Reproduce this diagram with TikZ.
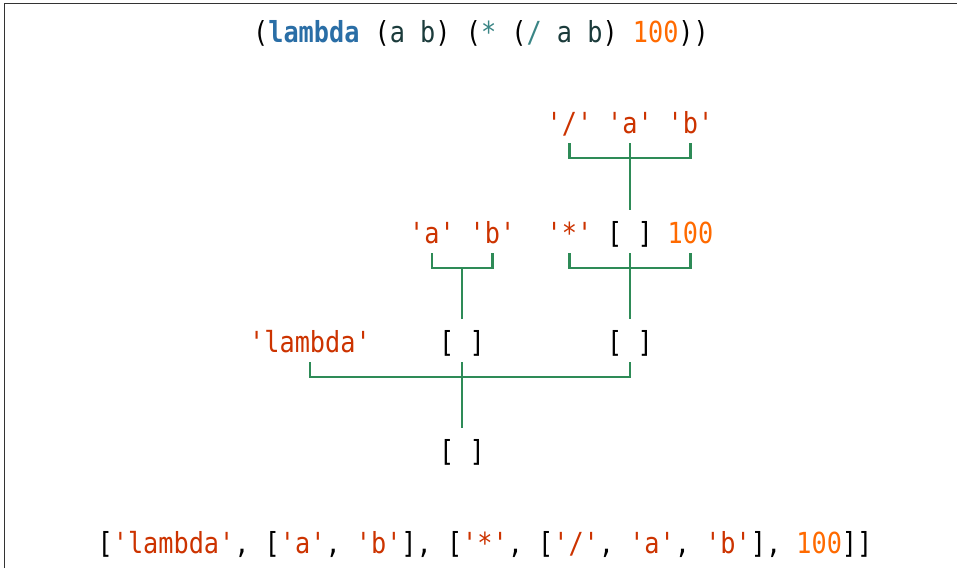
\documentclass[tikz,border=0pt]{standalone}
\usepackage{fontspec}
\setmonofont[FakeStretch=0.87]{DejaVu Sans Mono}
\usetikzlibrary{calc}
\definecolor{strred}{HTML}{CC3300}
\definecolor{numorange}{HTML}{FF6A00}
\definecolor{kwblue}{HTML}{2A6EA6}
\definecolor{symdark}{HTML}{1B3B3B}
\definecolor{opteal}{HTML}{3A8585}
\definecolor{linegreen}{HTML}{2E8B57}
\definecolor{framegray}{HTML}{333333}
\begin{document}
\begin{tikzpicture}[x=1pt,y=-1pt,
  tok/.style={anchor=base, inner sep=0pt, font=\ttfamily\fontsize{29}{34}\selectfont},
  strtok/.style={tok, text=strred},
  numtok/.style={tok, text=numorange},
  listtok/.style={tok, text=black},
  conn/.style={draw=linegreen, line width=2.6pt},
  framestyle/.style={draw=framegray, line width=1.6pt}]
\useasboundingbox (0,0) rectangle (957,568);
\draw[framestyle] (4.5,568) -- (4.5,3.5) -- (957,3.5);

% top source line
\node[tok] (src) at (481,42) {(\textcolor{kwblue}{\bfseries lambda} (\textcolor{symdark}{a} \textcolor{symdark}{b}) (\textcolor{opteal}{*} (\textcolor{opteal}{/} \textcolor{symdark}{a} \textcolor{symdark}{b}) \textcolor{numorange}{100}))};

% row 1
\node[strtok] (r1a) at (569.5,133) {'/'};
\node[strtok] (r1b) at (630,133) {'a'};
\node[strtok] (r1c) at (690.5,133) {'b'};
% row 2
\node[strtok] (r2a) at (432,243) {'a'};
\node[strtok] (r2b) at (492.5,243) {'b'};
\node[strtok] (r2c) at (569.5,243) {'*'};
\node[listtok] (r2d) at (630,243) {[ ]};
\node[numtok] (r2e) at (690.5,243) {100};
% row 3
\node[strtok] (r3a) at (310,352) {'lambda'};
\node[listtok] (r3b) at (462,352) {[ ]};
\node[listtok] (r3c) at (630,352) {[ ]};
% row 4
\node[listtok] (r4) at (462,461) {[ ]};

% brackets
\draw[conn] ($(r1a.base)+(0,10)$) |- ($(r1c.base)+(0,25)$) -- ($(r1c.base)+(0,10)$);
\draw[conn] ($(r1b.base)+(0,10)$) -- ($(r2d.base)+(0,-33)$);

\draw[conn] ($(r2a.base)+(0,10)$) |- ($(r2b.base)+(0,25)$) -- ($(r2b.base)+(0,10)$);
\draw[conn] ($(r3b.base)+(0,-33)$) -- ($(r3b.base)+(0,-84)$);

\draw[conn] ($(r2c.base)+(0,10)$) |- ($(r2e.base)+(0,25)$) -- ($(r2e.base)+(0,10)$);
\draw[conn] ($(r2d.base)+(0,10)$) -- ($(r3c.base)+(0,-33)$);

\draw[conn] ($(r3a.base)+(0,10)$) |- ($(r3c.base)+(0,25)$) -- ($(r3c.base)+(0,10)$);
\draw[conn] ($(r3b.base)+(0,10)$) -- ($(r4.base)+(0,-33)$);

% bottom python line
\node[tok] (py) at (485,553) {[\textcolor{strred}{'lambda'}, [\textcolor{strred}{'a'}, \textcolor{strred}{'b'}], [\textcolor{strred}{'*'}, [\textcolor{strred}{'/'}, \textcolor{strred}{'a'}, \textcolor{strred}{'b'}], \textcolor{numorange}{100}]]};
\end{tikzpicture}
\end{document}
